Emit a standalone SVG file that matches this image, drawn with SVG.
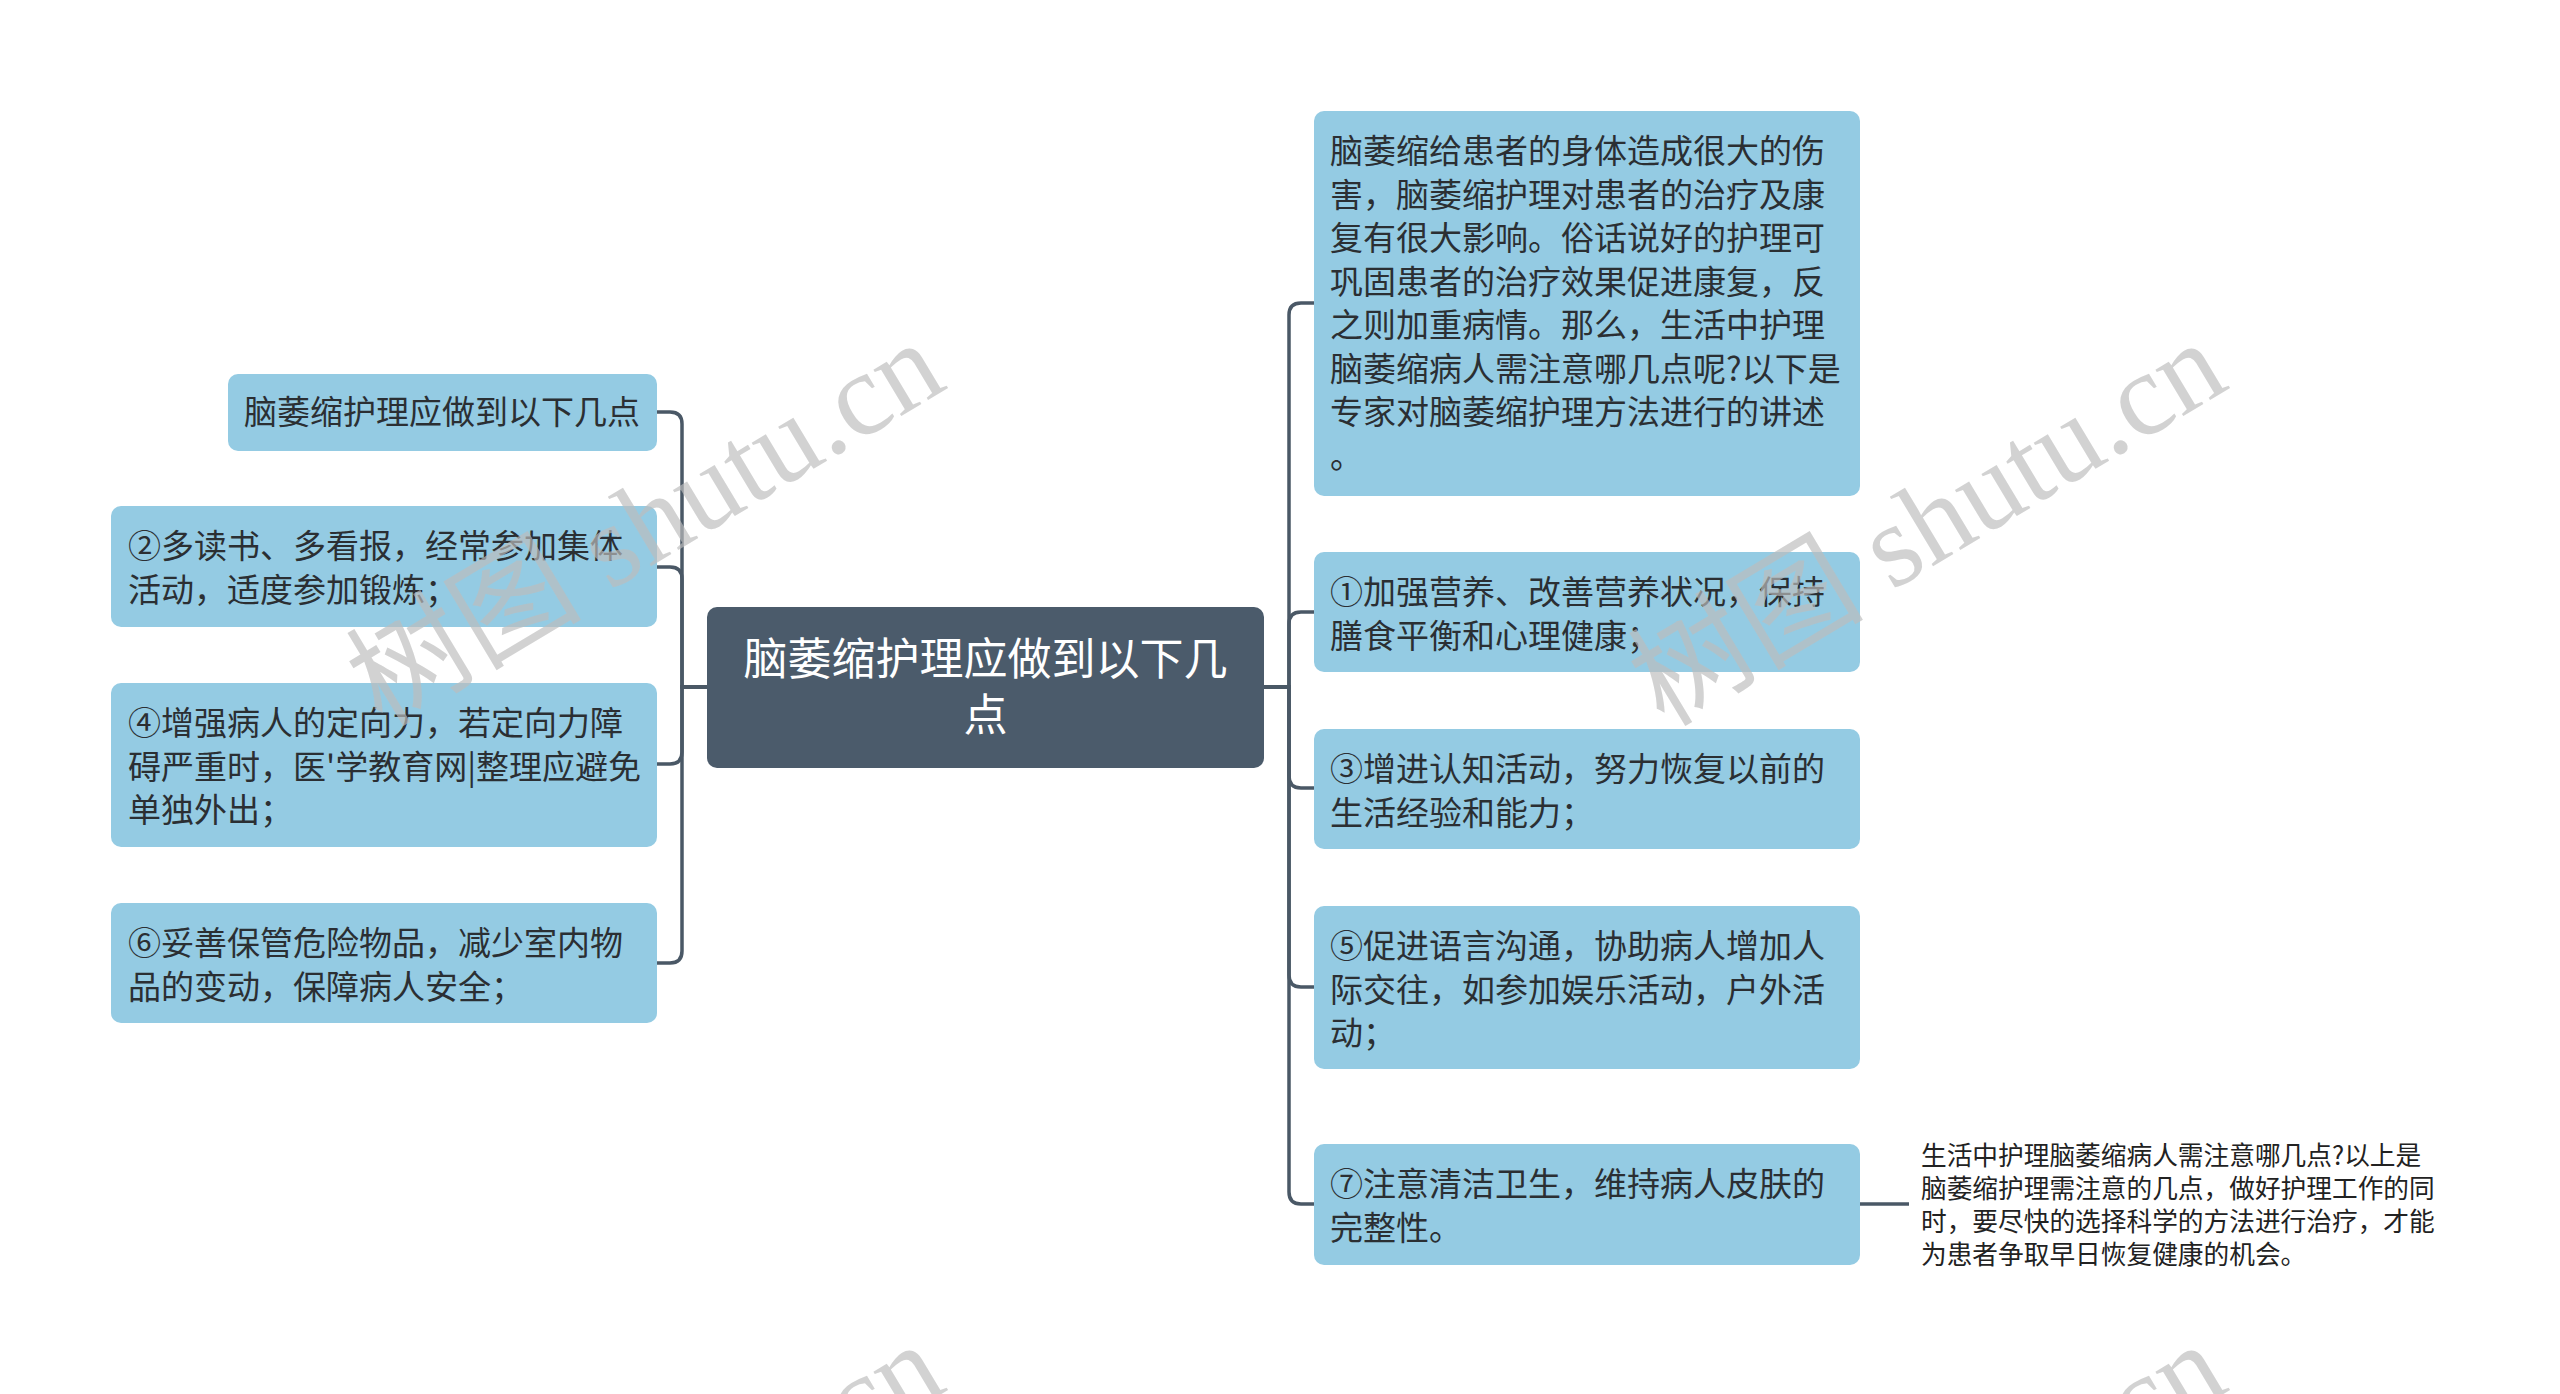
<svg xmlns="http://www.w3.org/2000/svg" width="2560" height="1394" viewBox="0 0 2560 1394">
<style>
.box{fill:#94cbe3;}
.root{fill:#4b5b6b;}
.t{font-family:"Noto Sans CJK SC","Noto Sans",sans-serif;font-size:33px;fill:#2b2f33;}
.rt{font-family:"Noto Sans CJK SC","Noto Sans",sans-serif;font-size:44px;fill:#ffffff;text-anchor:middle;}
.pt{font-family:"Noto Sans CJK SC","Noto Sans",sans-serif;font-size:25.7px;fill:#222222;}
.c{fill:none;stroke:#4a5866;stroke-width:3.5;}
.wm{font-family:"Liberation Serif","Noto Sans CJK SC",serif;font-size:118px;fill:#bdbdbd;fill-opacity:0.68;}
</style>
<rect width="2560" height="1394" fill="#ffffff"/>
<g id="connectors">
<path class="c" d="M1264,687 H1289 V315 Q1289,303 1301,303 H1314"/>
<path class="c" d="M1264,687 H1289 V624 Q1289,612 1301,612 H1314"/>
<path class="c" d="M1264,687 H1289 V776 Q1289,788 1301,788 H1314"/>
<path class="c" d="M1264,687 H1289 V975 Q1289,987 1301,987 H1314"/>
<path class="c" d="M1264,687 H1289 V1192 Q1289,1204 1301,1204 H1314"/>
<path class="c" d="M1860,1204 H1909"/>
<path class="c" d="M707,687 H682 V424 Q682,412 670,412 H657"/>
<path class="c" d="M707,687 H682 V579 Q682,567 670,567 H657"/>
<path class="c" d="M707,687 H682 V752 Q682,764 670,764 H657"/>
<path class="c" d="M707,687 H682 V951 Q682,963 670,963 H657"/>
</g>
<g id="root">
<rect class="root" x="707" y="607" width="557" height="161" rx="10"/>
<text class="rt" x="985.5" y="675">脑萎缩护理应做到以下几</text>
<text class="rt" x="985.5" y="731">点</text>
</g>
<g id="n-intro">
<rect class="box" x="1314" y="111" width="546" height="385" rx="10"/>
<text class="t" x="1330" y="163">脑萎缩给患者的身体造成很大的伤</text>
<text class="t" x="1330" y="206.5">害，脑萎缩护理对患者的治疗及康</text>
<text class="t" x="1330" y="250">复有很大影响。俗话说好的护理可</text>
<text class="t" x="1330" y="293.5">巩固患者的治疗效果促进康复，反</text>
<text class="t" x="1330" y="337">之则加重病情。那么，生活中护理</text>
<text class="t" x="1330" y="380.5">脑萎缩病人需注意哪几点呢?以下是</text>
<text class="t" x="1330" y="424">专家对脑萎缩护理方法进行的讲述</text>
<text class="t" x="1330" y="467.5">。</text>
</g>
<g id="n1">
<rect class="box" x="1314" y="552" width="546" height="120" rx="10"/>
<text class="t" x="1330" y="604">①加强营养、改善营养状况，保持</text>
<text class="t" x="1330" y="647.5">膳食平衡和心理健康；</text>
</g>
<g id="n3">
<rect class="box" x="1314" y="729" width="546" height="120" rx="10"/>
<text class="t" x="1330" y="781">③增进认知活动，努力恢复以前的</text>
<text class="t" x="1330" y="824.5">生活经验和能力；</text>
</g>
<g id="n5">
<rect class="box" x="1314" y="906" width="546" height="163" rx="10"/>
<text class="t" x="1330" y="958">⑤促进语言沟通，协助病人增加人</text>
<text class="t" x="1330" y="1001.5">际交往，如参加娱乐活动，户外活</text>
<text class="t" x="1330" y="1045">动；</text>
</g>
<g id="n7">
<rect class="box" x="1314" y="1144" width="546" height="121" rx="10"/>
<text class="t" x="1330" y="1196">⑦注意清洁卫生，维持病人皮肤的</text>
<text class="t" x="1330" y="1239.5">完整性。</text>
</g>
<g id="n7-note">
<text class="pt" x="1921" y="1165">生活中护理脑萎缩病人需注意哪几点?以上是</text>
<text class="pt" x="1921" y="1198">脑萎缩护理需注意的几点，做好护理工作的同</text>
<text class="pt" x="1921" y="1231">时，要尽快的选择科学的方法进行治疗，才能</text>
<text class="pt" x="1921" y="1264">为患者争取早日恢复健康的机会。</text>
</g>
<g id="l-title">
<rect class="box" x="228" y="374" width="429" height="77" rx="10"/>
<text class="t" x="244" y="424">脑萎缩护理应做到以下几点</text>
</g>
<g id="n2">
<rect class="box" x="111" y="506" width="546" height="121" rx="10"/>
<text class="t" x="128" y="558">②多读书、多看报，经常参加集体</text>
<text class="t" x="128" y="601.5">活动，适度参加锻炼；</text>
</g>
<g id="n4">
<rect class="box" x="111" y="683" width="546" height="164" rx="10"/>
<text class="t" x="128" y="735">④增强病人的定向力，若定向力障</text>
<text class="t" x="128" y="778.5">碍严重时，医'学教育网|整理应避免</text>
<text class="t" x="128" y="822">单独外出；</text>
</g>
<g id="n6">
<rect class="box" x="111" y="903" width="546" height="120" rx="10"/>
<text class="t" x="128" y="955">⑥妥善保管危险物品，减少室内物</text>
<text class="t" x="128" y="998.5">品的变动，保障病人安全；</text>
</g>
<g id="watermark">
<text class="wm" x="382" y="728" transform="rotate(-31 382 728)">树图 shutu.cn</text>
<text class="wm" x="1664" y="728" transform="rotate(-31 1664 728)">树图 shutu.cn</text>
<text class="wm" x="382" y="1730" transform="rotate(-31 382 1730)">树图 shutu.cn</text>
<text class="wm" x="1664" y="1730" transform="rotate(-31 1664 1730)">树图 shutu.cn</text>
</g>
</svg>
